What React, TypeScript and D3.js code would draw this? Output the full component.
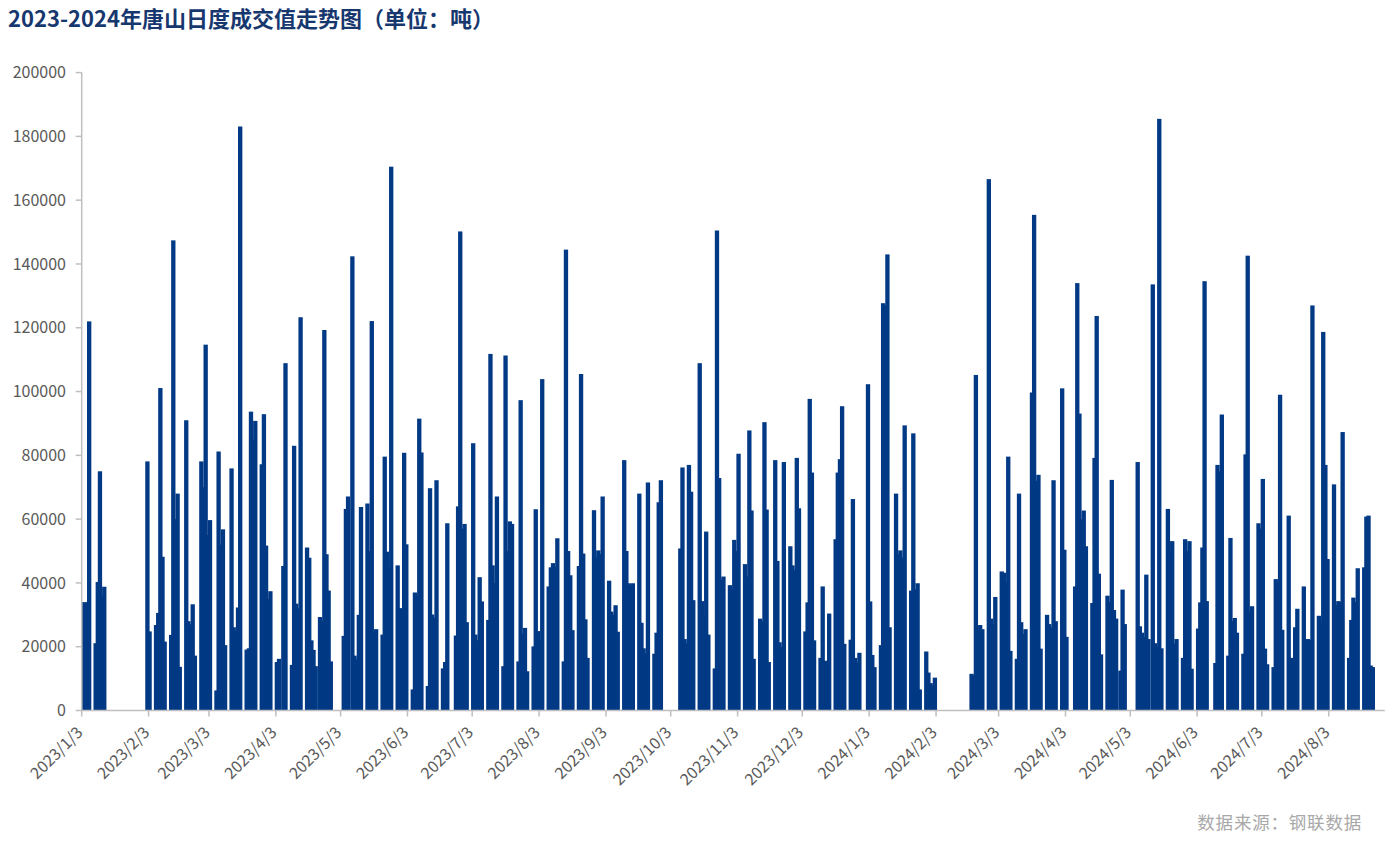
import React from "react";
import * as d3 from "d3";

// ---- Data: [day of month, value] per month (tons) ----
const m2023_01: [number, number][] = [[3,34000],[4,33500],[5,34000],[6,122000],[9,21100],[10,40300],[11,75000],[12,36000],[13,38800]];
const m2023_02: [number, number][] = [[2,78100],[3,24800],[6,26800],[7,30600],[8,101100],[9,48200],[10,21600],[13,23700],[14,147400],[15,60000],[16,68000],[17,13700],[20,91000],[21,28000],[22,27000],[23,33300],[24,17200],[27,78100],[28,70000]];
const m2023_03: [number, number][] = [[1,114700],[2,55000],[3,59700],[6,6300],[7,81200],[8,52000],[9,56800],[10,20500],[13,75900],[14,26100],[15,25000],[16,32300],[17,183100],[20,19100],[21,19500],[22,93700],[23,85000],[24,90800],[27,77200],[28,92900],[29,51700],[30,35000],[31,37400]];
const m2023_04: [number, number][] = [[3,15200],[4,16200],[6,45300],[7,108900],[10,14300],[11,83000],[12,33500],[13,32000],[14,123300],[17,51100],[18,47900],[19,22000],[20,19000],[21,13900],[23,29300],[24,28000],[25,119300],[26,49000],[27,37600],[28,15400]];
const m2023_05: [number, number][] = [[4,23400],[5,63200],[6,67100],[8,142400],[9,17200],[10,16000],[11,30000],[12,63800],[15,64900],[16,50000],[17,122100],[18,24000],[19,25500],[22,23800],[23,79600],[24,49800],[25,45000],[26,170500],[29,45500],[30,32100],[31,30000]];
const m2023_06: [number, number][] = [[1,80800],[2,52100],[5,6600],[6,37000],[7,36000],[8,91500],[9,80900],[12,7700],[13,69700],[14,30100],[15,29000],[16,72200],[19,13200],[20,15200],[21,58700],[25,23500],[26,64000],[27,150200],[28,57000],[29,58500],[30,27700]];
const m2023_07: [number, number][] = [[3,83800],[4,23800],[5,22000],[6,41800],[7,34200],[10,28400],[11,111800],[12,45500],[13,40000],[14,67100],[17,13900],[18,111300],[19,50000],[20,59300],[21,58500],[24,15400],[25,97300],[26,24000],[27,25900],[28,12300],[31,20100]];
const m2023_08: [number, number][] = [[1,63100],[2,24900],[3,22000],[4,103900],[7,38900],[8,44900],[9,46200],[10,45000],[11,54000],[14,15400],[15,144500],[16,50000],[17,42400],[18,25200],[21,45300],[22,105500],[23,49200],[24,28600],[25,16500],[28,62800],[29,48000],[30,50200],[31,49000]];
const m2023_09: [number, number][] = [[1,67100],[4,40700],[5,31000],[6,30000],[7,33000],[8,24700],[11,78500],[12,50000],[13,39900],[14,39500],[15,39900],[18,68000],[19,27500],[20,19500],[21,18000],[22,71500],[25,17800],[26,24400],[27,65300],[28,72200]];
const m2023_10: [number, number][] = [[7,50800],[8,76200],[9,22400],[10,21000],[11,77000],[12,68600],[13,34600],[16,108900],[17,34300],[18,30000],[19,56100],[20,23800],[23,13200],[24,150500],[25,72900],[26,41000],[27,42000],[30,39300],[31,38000]];
const m2023_11: [number, number][] = [[1,53500],[2,50000],[3,80500],[6,45900],[7,42000],[8,87800],[9,62700],[10,16200],[13,28800],[14,28000],[15,90400],[16,63000],[17,15200],[20,78500],[21,46900],[22,21400],[23,20000],[24,77900],[27,51500],[28,45500],[29,44000],[30,79200]];
const m2023_12: [number, number][] = [[1,63400],[4,24800],[5,33900],[6,97700],[7,74600],[8,22000],[11,16500],[12,38900],[13,15600],[14,15000],[15,30400],[18,53700],[19,74600],[20,78800],[21,95400],[22,20900],[25,22200],[26,66300],[27,16500],[28,15000],[29,18100]];
const m2024_01: [number, number][] = [[2,102300],[3,34200],[4,17400],[5,13600],[8,20500],[9,127700],[10,127000],[11,143000],[12,26100],[15,68000],[16,49000],[17,50200],[18,48000],[19,89400],[22,37600],[23,86900],[24,38000],[25,39900],[26,6600],[29,18500],[30,11900],[31,8600]];
const m2024_02: [number, number][] = [[1,8000],[2,10300],[19,11500],[20,11000],[21,105200],[22,25000],[23,26800],[24,25500],[27,166600],[28,28800],[29,27000]];
const m2024_03: [number, number][] = [[1,35600],[4,43600],[5,43200],[6,40000],[7,79600],[8,18700],[11,16200],[12,68000],[13,27700],[14,24000],[15,25500],[18,99700],[19,155400],[20,72000],[21,73900],[22,19400],[25,30000],[26,27100],[27,26000],[28,72200],[29,28000]];
const m2024_04: [number, number][] = [[1,101000],[2,50400],[3,23100],[7,38900],[8,134000],[9,93100],[10,60000],[11,62700],[12,51500],[15,33700],[16,79200],[17,123700],[18,42900],[19,17600],[22,36000],[23,34000],[24,72300],[25,31500],[26,28800],[28,12500],[29,37900],[30,27100]];
const m2024_05: [number, number][] = [[6,77900],[7,26400],[8,24400],[9,23000],[10,42600],[11,22400],[13,133600],[14,21100],[15,20000],[16,185500],[17,19500],[20,63200],[21,50000],[22,53100],[23,21000],[24,22400],[27,16500],[28,53700],[29,50000],[30,53100],[31,13100]];
const m2024_06: [number, number][] = [[3,25700],[4,33900],[5,51100],[6,134600],[7,34300],[11,14900],[12,77000],[13,75000],[14,92800],[17,17200],[18,54100],[19,28000],[20,29000],[21,24400],[24,17800],[25,80300],[26,142600],[27,31000],[28,32700]];
const m2024_07: [number, number][] = [[1,58700],[2,57000],[3,72600],[4,19400],[5,14500],[8,13600],[9,41200],[10,40000],[11,99000],[12,25300],[15,61100],[16,16500],[17,16000],[18,26100],[19,31900],[22,38900],[23,22000],[24,22400],[25,22000],[26,127000],[29,29700],[30,28000],[31,118700]];
const m2024_08: [number, number][] = [[1,77000],[2,47500],[5,70900],[6,33000],[7,34300],[8,34000],[9,87300],[12,16500],[13,28400],[14,35400],[15,34000],[16,44600],[19,44900],[20,60800],[21,61100],[22,14100],[23,13600]];

const months: [number, number, [number, number][]][] = [
  [2023, 1, m2023_01], [2023, 2, m2023_02], [2023, 3, m2023_03], [2023, 4, m2023_04],
  [2023, 5, m2023_05], [2023, 6, m2023_06], [2023, 7, m2023_07], [2023, 8, m2023_08],
  [2023, 9, m2023_09], [2023, 10, m2023_10], [2023, 11, m2023_11], [2023, 12, m2023_12],
  [2024, 1, m2024_01], [2024, 2, m2024_02], [2024, 3, m2024_03], [2024, 4, m2024_04],
  [2024, 5, m2024_05], [2024, 6, m2024_06], [2024, 7, m2024_07], [2024, 8, m2024_08],
];

const xTickLabels = [
  "2023/1/3", "2023/2/3", "2023/3/3", "2023/4/3", "2023/5/3", "2023/6/3", "2023/7/3",
  "2023/8/3", "2023/9/3", "2023/10/3", "2023/11/3", "2023/12/3", "2024/1/3", "2024/2/3",
  "2024/3/3", "2024/4/3", "2024/5/3", "2024/6/3", "2024/7/3", "2024/8/3",
];
const yTicks = [0, 20000, 40000, 60000, 80000, 100000, 120000, 140000, 160000, 180000, 200000];

const TITLE = "2023-2024年唐山日度成交值走势图（单位：吨）";
const SOURCE = "数据来源：钢联数据";

const W = 1393;
const H = 849;
const FONT = "'Microsoft YaHei', 'Noto Sans CJK SC', 'Noto Sans', sans-serif";
const BAR = "#023985";
const AXIS = "#BFBFBF";
const LABEL = "#595959";

const parseLabel = (s: string) => {
  const [yy, mm, dd] = s.split("/").map(Number);
  return new Date(Date.UTC(yy, mm - 1, dd));
};

export default function App() {
  const x = d3
    .scaleUtc()
    .domain([new Date(Date.UTC(2023, 0, 3)), new Date(Date.UTC(2024, 7, 29))])
    .range([81.7, 1384.8]);
  const y = d3.scaleLinear().domain([0, 200000]).range([710.5, 72.6]);
  const dayW = x(new Date(Date.UTC(2023, 0, 4))) - x(new Date(Date.UTC(2023, 0, 3)));

  const data = months.flatMap(([yy, mm, arr]) =>
    arr.map(([d, v]) => ({ date: new Date(Date.UTC(yy, mm - 1, d)), value: v }))
  );
  data.sort((a, b) => +a.date - +b.date);

  const [x0, x1] = x.range();
  const [yb, yt] = y.range();

  return (
    <div style={{ position: "absolute", left: 0, top: 0, width: W, height: H, background: "#fff" }}>
      <svg width={W} height={H} style={{ display: "block" }} fontFamily={FONT}>
        <defs>
          <clipPath id="plotClip">
            <rect x={x0 + 0.5} y={0} width={x1 - x0 + 2} height={yb} />
          </clipPath>
        </defs>
        <rect x={0} y={0} width={W} height={H} fill="#fff" />
        <text x={8} y={27} fontSize={22} fontWeight={700} fill="#17386F">
          {TITLE}
        </text>

        {/* bars */}
        <g clipPath="url(#plotClip)">
          {data.map((d, i) => (
            <rect
              key={i}
              x={x(d.date) - 0.54 * dayW}
              y={y(d.value)}
              width={2 * dayW}
              height={yb - y(d.value)}
              fill={BAR}
            />
          ))}
        </g>

        {/* y axis */}
        <line x1={x0} x2={x0} y1={yt} y2={yb} stroke={AXIS} strokeWidth={1.5} />
        {yTicks.map((t) => (
          <g key={t}>
            <line x1={x0 - 6} x2={x0} y1={y(t)} y2={y(t)} stroke={AXIS} strokeWidth={1.5} />
            <text x={66} y={y(t)} dy="0.35em" textAnchor="end" fontSize={16} fill={LABEL}>
              {t}
            </text>
          </g>
        ))}

        {/* x axis */}
        <line x1={x0} x2={x1} y1={yb} y2={yb} stroke={AXIS} strokeWidth={1.5} />
        {xTickLabels.map((s) => {
          const px = x(parseLabel(s));
          return (
            <g key={s}>
              <line x1={px} x2={px} y1={yb} y2={yb + 6} stroke={AXIS} strokeWidth={1.5} />
              <text
                transform={`translate(${px - 2},${yb + 19}) rotate(-45)`}
                textAnchor="end"
                dy="0.35em"
                fontSize={16}
                fill={LABEL}
              >
                {s}
              </text>
            </g>
          );
        })}

        <text x={1362} y={829} textAnchor="end" fontSize={17.5} letterSpacing={0.8} fill="#A8A8A8">
          {SOURCE}
        </text>
      </svg>
    </div>
  );
}
